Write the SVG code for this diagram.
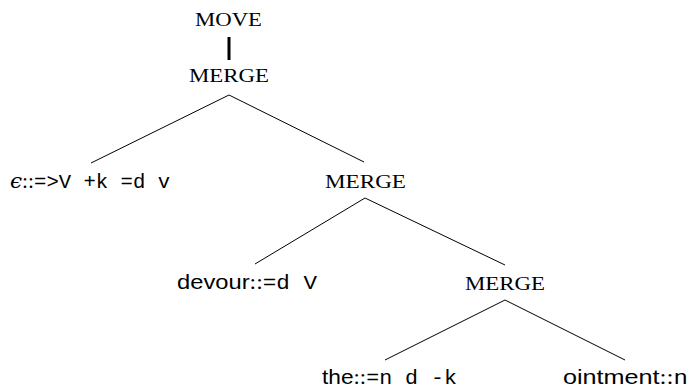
<svg xmlns="http://www.w3.org/2000/svg" width="694" height="389" viewBox="0 0 694 389">
<style>
.sc{font-family:"Liberation Serif","DejaVu Serif",serif;font-size:19px;fill:#000}
.lab{font-size:21px;fill:#000}
.sf{font-family:"Liberation Sans","DejaVu Sans",sans-serif}
.rm{font-family:"Liberation Serif","DejaVu Serif",serif}
.tt{font-family:"Liberation Mono","DejaVu Sans Mono",monospace;font-size:20px}
.e{font-family:"DejaVu Serif",serif;font-style:italic}
.edge{stroke:#000;stroke-width:1;fill:none}
</style>
<rect width="694" height="389" fill="#fff"/>
<g id="connectors">
<line x1="229" y1="37" x2="229" y2="60" stroke="#000" stroke-width="3"/>
<line class="edge" x1="229" y1="95" x2="91" y2="163"/>
<line class="edge" x1="229" y1="95" x2="364" y2="162"/>
<line class="edge" x1="365" y1="198" x2="255" y2="264"/>
<line class="edge" x1="365" y1="198" x2="505" y2="265"/>
<line class="edge" x1="505" y1="300" x2="385" y2="360"/>
<line class="edge" x1="505" y1="300" x2="625" y2="360"/>
</g>
<g id="move"><text class="sc" x="195" y="26" textLength="67" lengthAdjust="spacingAndGlyphs">MOVE</text></g>
<g id="merge1"><text class="sc" x="189" y="82" textLength="80" lengthAdjust="spacingAndGlyphs">MERGE</text></g>
<g id="epsilon"><text class="lab" x="10" y="188" textLength="160" lengthAdjust="spacingAndGlyphs"><tspan class="e">ϵ</tspan><tspan class="rm">::</tspan><tspan class="tt">=&gt;V +k =d v</tspan></text></g>
<g id="merge2"><text class="sc" x="325" y="188" textLength="81" lengthAdjust="spacingAndGlyphs">MERGE</text></g>
<g id="devour"><text class="lab" x="177" y="289" textLength="140" lengthAdjust="spacingAndGlyphs"><tspan class="sf">devour</tspan><tspan class="rm">::</tspan><tspan class="tt">=d V</tspan></text></g>
<g id="merge3"><text class="sc" x="465" y="290" textLength="80" lengthAdjust="spacingAndGlyphs">MERGE</text></g>
<g id="the"><text class="lab" x="322" y="384" textLength="135" lengthAdjust="spacingAndGlyphs"><tspan class="sf">the</tspan><tspan class="rm">::</tspan><tspan class="tt">=n d -k</tspan></text></g>
<g id="ointment"><text class="lab" x="563" y="384" textLength="125" lengthAdjust="spacingAndGlyphs"><tspan class="sf">ointment</tspan><tspan class="rm">::</tspan><tspan class="tt">n</tspan></text></g>
</svg>
